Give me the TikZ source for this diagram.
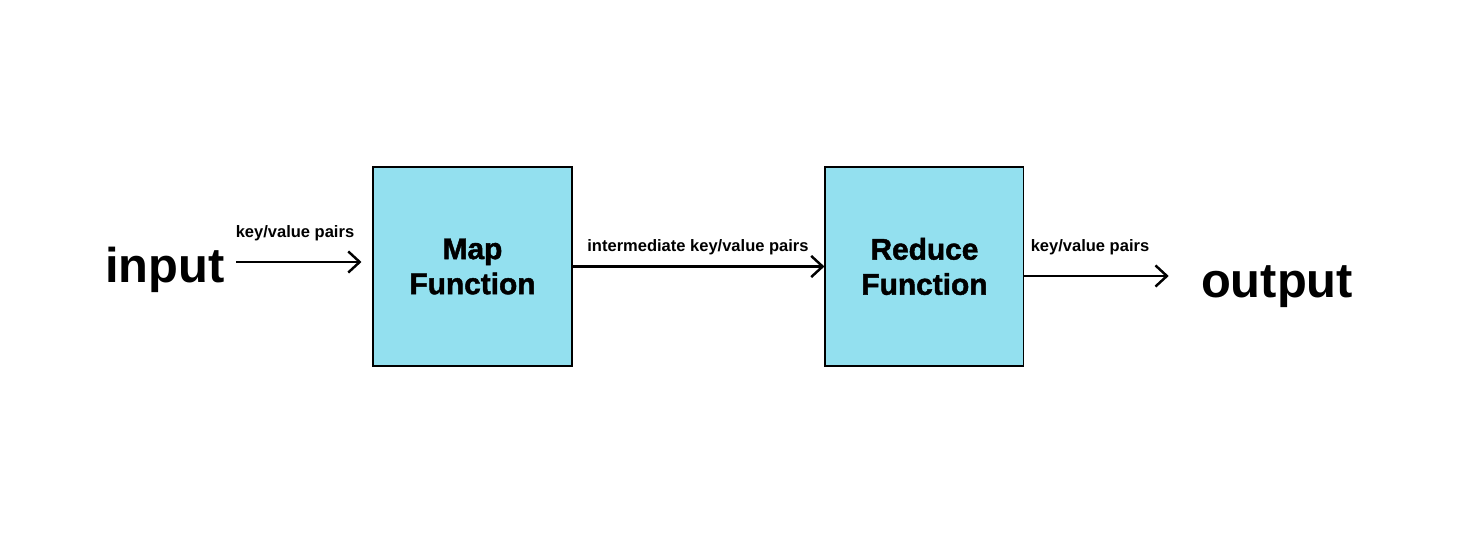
\documentclass[tikz,border=0pt]{standalone}
\usepackage{fontspec}
\setmainfont{Liberation Sans}
\newfontfamily\heavyfont{Liberation Sans}[BoldFeatures={FakeBold=1.6}]
\usepackage{xcolor}
\usepackage{tikz}
\usetikzlibrary{arrows.meta, positioning}
\definecolor{boxcyan}{HTML}{93E0EF}

\begin{document}
\begin{tikzpicture}[
  x=0.02cm, y=-0.02cm,
  func/.style={
    rectangle, draw=black, line width=0.6pt, fill=boxcyan,
    minimum width=3.98cm, minimum height=3.98cm, inner sep=0pt,
    align=center, font=\heavyfont\fontsize{17}{20}\selectfont\bfseries
  },
  term/.style={font=\fontsize{27.8}{30}\selectfont\bfseries, inner sep=0pt},
  lbl/.style={font=\fontsize{9.4}{11}\selectfont\bfseries, inner sep=0pt},
  arrow/.style={-{Straight Barb[length=6.5pt, width=12pt]}, line width=1.4pt}
]
\fill[white] (0,0) rectangle (1478,546);
\useasboundingbox (0,0) rectangle (1478,546);

% Map and Reduce
\node[func] (map) at (472.5,266.5) {Map\\Function};
\node[func, right=5.04cm of map] (reduce) {Reduce\\Function};

% input / output
\node[term] (in)  at (165,270) {input};
\node[term] (out) at (1277,287) {output};

% Labels
\node[lbl] (kv1) at (295,233)  {key/value pairs};
\node[lbl] (kv2) at (698,247)  {intermediate key/value pairs};
\node[lbl] (kv3) at (1090,247) {key/value pairs};

% Arrows
\draw[arrow, shorten <=0.22cm, shorten >=0.22cm] ([yshift=0.16cm]in.east)
      -- ([yshift=0.16cm]in.east -| map.west);
\draw[arrow] (map.east) -- (reduce.west);
\draw[arrow, shorten >=0.64cm] ([yshift=-0.19cm]reduce.east)
      -- ([yshift=-0.19cm]reduce.east -| out.west);

\end{tikzpicture}
\end{document}
